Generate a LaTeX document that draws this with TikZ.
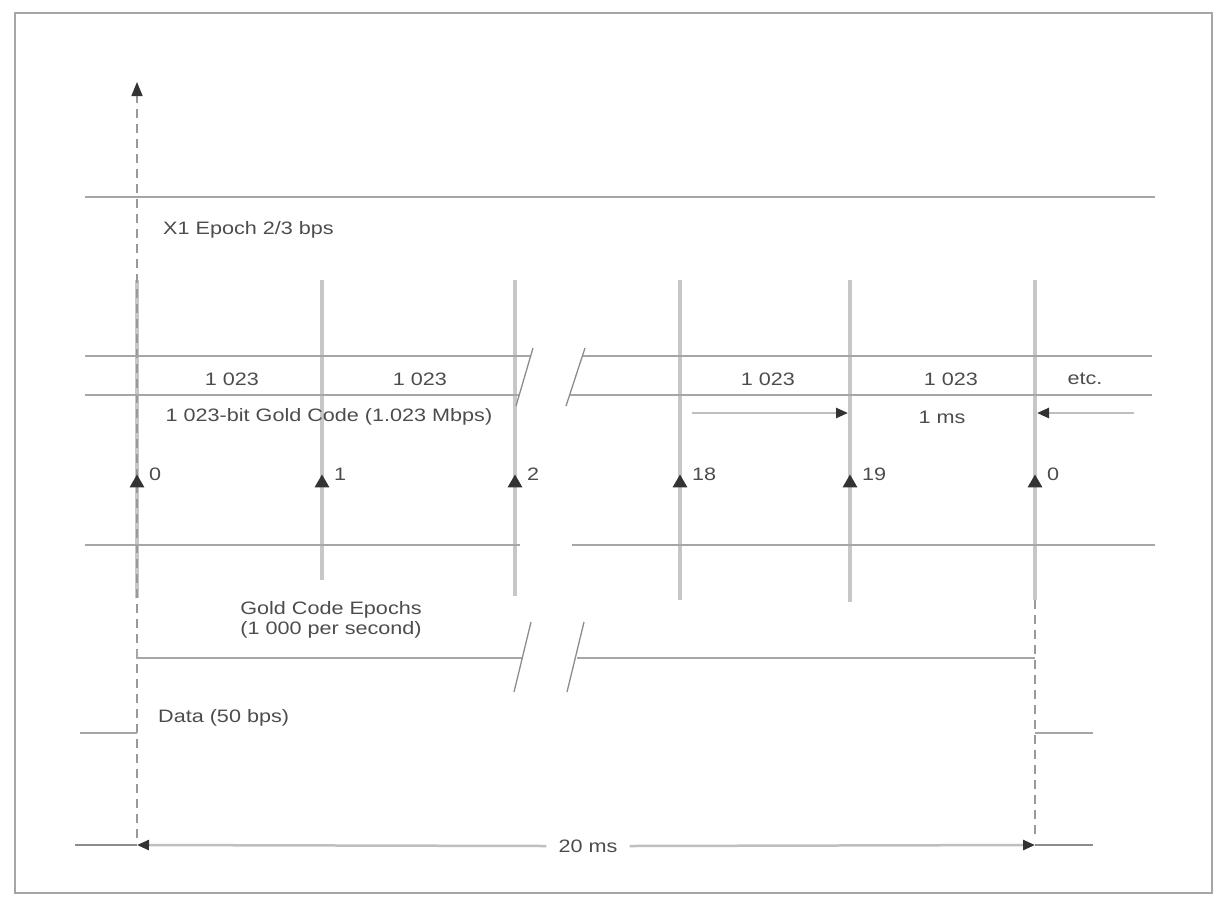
\documentclass[tikz,border=0pt]{standalone}
\usepackage{fontspec}
\setmainfont{Liberation Sans}[FakeStretch=1.2]
\usepackage{tikz}
\usetikzlibrary{arrows.meta,shapes.geometric,positioning}

\tikzset{
  guide/.style={black!35, line width=1.6pt},
  epochline/.style={black!22, line width=3.5pt},
  dashline/.style={black!40, line width=1.4pt, dash pattern=on 9pt off 6pt},
  breakmark/.style={black!45, line width=1.3pt},
  epochtick/.style={regular polygon, regular polygon sides=3, fill=black!80,
    minimum size=17pt, inner sep=0pt},
  lbl/.style={text=black!70, inner sep=0pt},
  dimarrow/.style={black!25, line width=2.5pt,
    -{Triangle[length=12pt,width=10pt,color=black!80]}},
}

\begin{document}
\begin{tikzpicture}[x=1pt, y=-1pt, font=\fontsize{18}{20}\selectfont]
  \useasboundingbox (0,0) rectangle (1218,914);
  \draw[black!35, line width=1.5pt] (15,13) rectangle (1212,893);

  % epoch lines and markers
  \foreach \n/\x/\t/\b in {0/137/0/598, 1/322/1/580, 2/515/2/596,
                           18/680/18/600, 19/850/19/602, 20/1035/0/600} {
    \draw[epochline] (\x,280) -- (\x,\b);
  }

  % time axis and last epoch
  \draw[dashline, -{Triangle[length=14pt,width=11pt,color=black!80]}] (137,838) -- (137,82);
  \draw[dashline] (1035,600) -- (1035,838);

  % X1 epoch
  \draw[guide] (85,197) -- (1155,197);
  \node[lbl, anchor=west] (x1) at (163,230) {X1 Epoch 2/3 bps};

  % code chips
  \draw[guide] (85,356) -- (531,356);
  \draw[guide] (85,395) -- (519,395);
  \draw[guide] (583,356) -- (1152,356);
  \draw[guide] (569,395) -- (1152,395);
  \draw[breakmark] (516,406) -- (533,348);
  \draw[breakmark] (566,406) -- (585,348);
  \node[lbl] (c1) at (232,379) {1 023};
  \node[lbl] (c2) at (420,379) {1 023};
  \node[lbl] (c3) at (768,379) {1 023};
  \node[lbl] (c4) at (951,379) {1 023};
  \node[lbl] (etc) at (1085,379) {etc.};
  \node[lbl] (gold) at (329,417) {1 023-bit Gold Code (1.023 Mbps)};

  % 1 ms
  \node[lbl] (ms1) at (942,417) {1 ms};
  \coordinate (ms1a) at (692,413);
  \coordinate (ms1b) at (1134,413);
  \draw[dimarrow] (ms1a) -- (848,413);
  \draw[dimarrow] (ms1b) -- (1037,413);

  % lower bound of the epochs
  \draw[guide] (85,545) -- (520,545);
  \draw[guide] (572,545) -- (1155,545);

  \foreach \n/\x/\t in {0/137/0, 1/322/1, 2/515/2, 18/680/18, 19/850/19, 20/1035/0} {
    \node[epochtick] (ep\n) at (\x,483) {};
    \node[lbl, anchor=west, xshift=12pt, yshift=9pt] at (ep\n) {\t};
  }

  % Gold code epochs
  \node[lbl, align=center] (epochs) at (331,620) {Gold Code Epochs\\(1 000 per second)};
  \draw[guide] (137,650) -- (137,658) -- (523,658);
  \draw[guide] (577,658) -- (1035,658);
  \draw[breakmark] (514,692) -- (531,622);
  \draw[breakmark] (567,692) -- (584,622);

  % data
  \node[lbl, anchor=west] (data) at (158,718) {Data (50 bps)};
  \draw[guide] (80,733) -- (ep0 |- 0,733);
  \draw[guide] (ep20 |- 0,733) -- (1093,733);

  % 20 ms
  \node[lbl] (ms20) at (588,846) {20 ms};
  \draw[black!45, line width=1.2pt] (75,845) -- (ep0 |- 0,845);
  \draw[black!45, line width=1.2pt] (ep20 |- 0,845) -- (1093,845);
  \draw[dimarrow] (ms20.west) ++(-12,0) -- (ep0 |- 0,845);
  \draw[dimarrow] (ms20.east) ++(12,0) -- (ep20 |- 0,845);
\end{tikzpicture}
\end{document}
